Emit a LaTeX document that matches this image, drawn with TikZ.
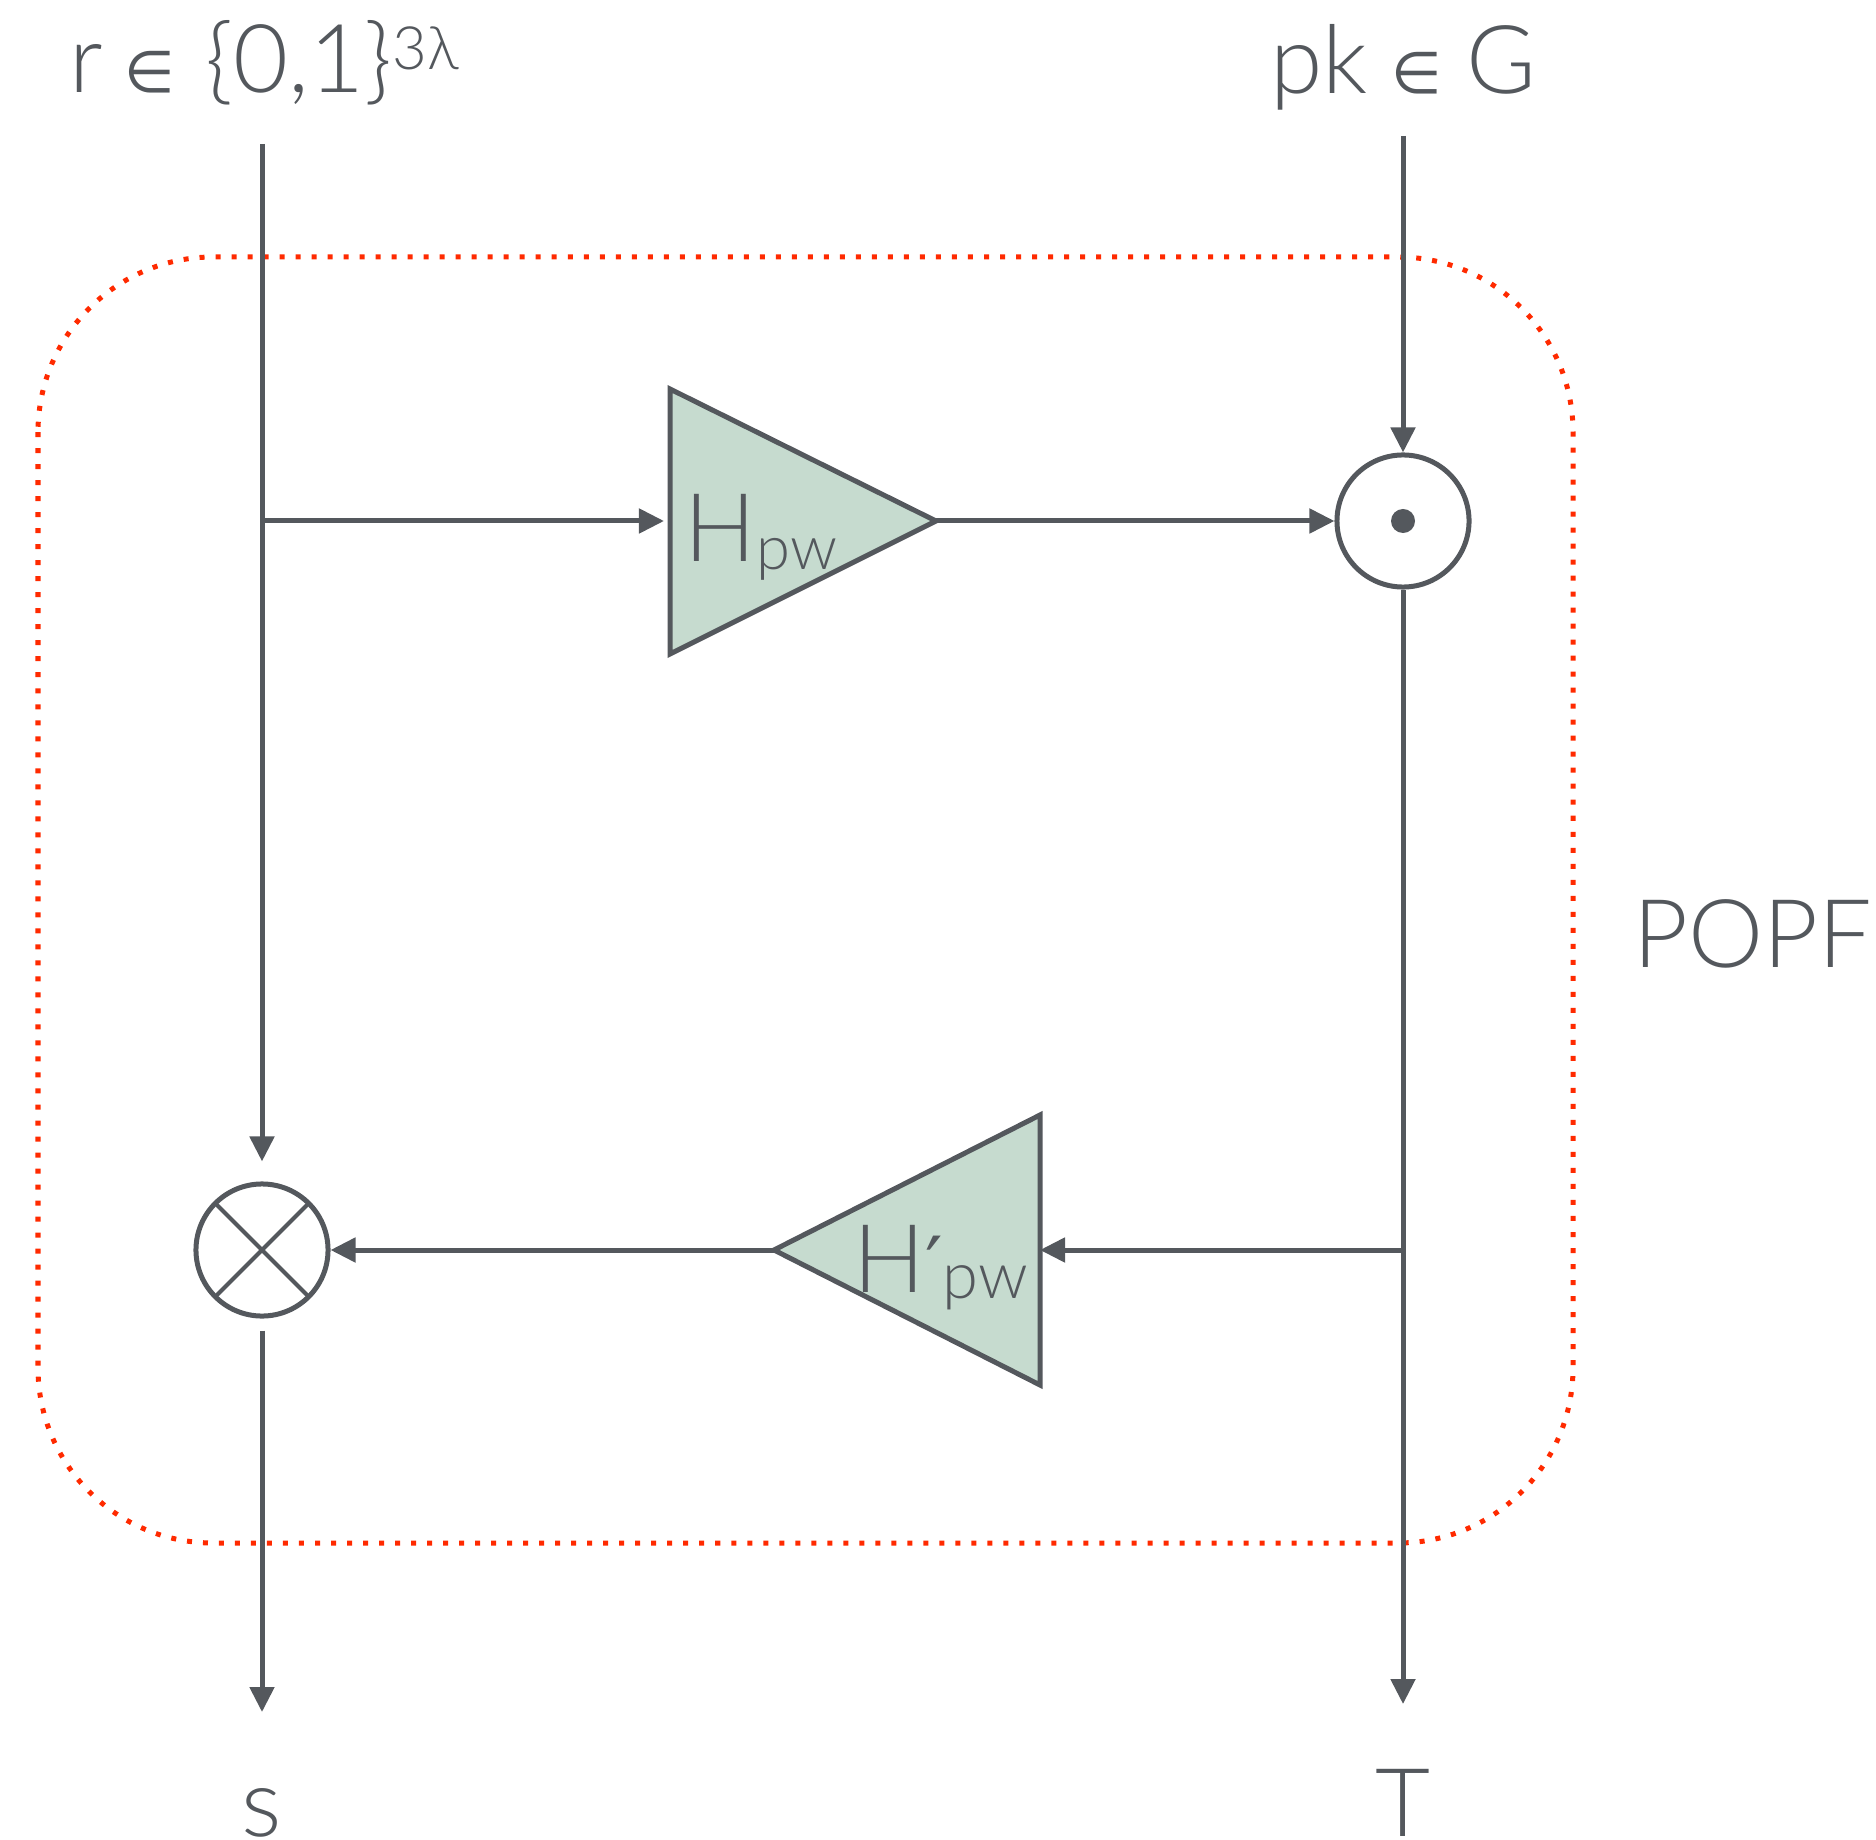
\documentclass[tikz,border=0pt]{standalone}
\usepackage{fontspec}
\IfFontExistsTF{Lato Light}{\setmainfont{Lato Light}}{\setmainfont{Lato}}
\newfontfamily\symf{DejaVu Sans}
\usetikzlibrary{arrows.meta}
\definecolor{ink}{HTML}{54585D}
\definecolor{fillg}{HTML}{C6DBCF}
\definecolor{dotred}{HTML}{FF2A00}
\begin{document}
\begin{tikzpicture}[x=0.01cm,y=-0.01cm,
  lbl/.style={font=\fontsize{27pt}{32pt}\selectfont, text=ink, inner sep=0pt},
  wire/.style={draw=ink, line width=0.05cm},
  arr/.style={wire, -{Triangle[length=0.25cm,width=0.24cm]}},
  junction/.style={circle, draw=ink, line width=0.05cm, minimum size=1.32cm, inner sep=0pt, fill=white},
  amp/.style={draw=ink, fill=fillg, line width=0.05cm, line join=miter},
  popf/.style={draw=dotred, line width=0.05cm, dash pattern=on 0.05cm off 0.11cm, rounded corners=1.75cm}]
\useasboundingbox (0,0) rectangle (1876,1840);
% POPF boundary
\draw[popf] (38,257) rectangle (1573,1543);
% free ends and branch points
\coordinate (rin) at (262,144);
\coordinate (pkin) at (1403,136);
\coordinate (send) at (262,1712);
\coordinate (tend) at (1403,1704);
\coordinate (b1) at (262,521);
\coordinate (b2) at (1403,1250);
\coordinate (h1in) at (670,521);
\coordinate (h1out) at (936,521);
\coordinate (h2in) at (1040,1250);
\coordinate (h2out) at (774,1250);
% amplifier triangles
\draw[amp] (670,389) -- (670,654) -- (936,521) -- cycle;
\draw[amp] (1040,1115) -- (1040,1385) -- (774,1250) -- cycle;
\node[lbl, anchor=base west] (h1lab) at (684,562) {H\raisebox{-0.07cm}{\fontsize{17.5pt}{20pt}\selectfont pw}};
\node[lbl, anchor=base west] (h2lab) at (853,1292) {H{\symf\fontsize{22pt}{24pt}\selectfont ′}\raisebox{-0.06cm}{\fontsize{18.5pt}{20pt}\selectfont pw}};
% junctions
\node[junction] (dot) at (1403,521) {};
\fill[ink] (dot.center) circle[radius=0.12cm];
\node[junction] (otimes) at (262,1250) {};
\draw[ink, line width=0.04cm, shorten <=0.02cm, shorten >=0.02cm] (otimes.north west) -- (otimes.south east);
\draw[ink, line width=0.04cm, shorten <=0.02cm, shorten >=0.02cm] (otimes.north east) -- (otimes.south west);
% connectors
\draw[arr, shorten >=0.2cm] (rin) -- (otimes.north);
\draw[arr, shorten >=0.06cm] (b1) -- (h1in);
\draw[arr] (h1out) -- (dot.west);
\draw[arr] (pkin) -- (dot.north);
\draw[arr] (dot.south) -- (tend);
\draw[arr] (b2) -- (h2in);
\draw[arr] (h2out) -- (otimes.east);
\draw[arr, shorten <=0.12cm] (otimes.south) -- (send);
% labels
\node[lbl, anchor=base] (rlab) at (264,93) {r\hspace{0.22cm}{\symf\fontsize{16.5pt}{20pt}\selectfont ∈}\hspace{0.3cm}\{0,1\}\raisebox{0.23cm}{\fontsize{17pt}{20pt}\selectfont 3λ}};
\node[lbl, anchor=base] (pklab) at (1403,94) {pk\hspace{0.24cm}{\symf\fontsize{16.5pt}{20pt}\selectfont ∈}\hspace{0.24cm}G};
\node[lbl, anchor=base west] (popf) at (1633,967) {POPF};
\node[lbl, anchor=base] (slab) at (262,1836) {s};
\node[lbl, anchor=base] (tlab) at (1403,1836) {T};
\end{tikzpicture}
\end{document}
